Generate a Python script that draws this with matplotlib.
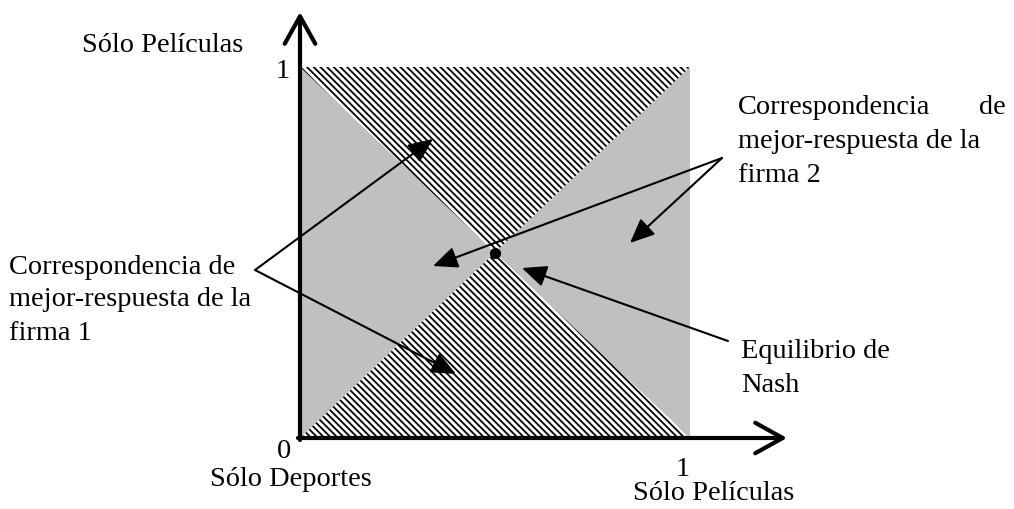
"""Best-response correspondences and Nash equilibrium (sports vs. movies)."""
import matplotlib
matplotlib.use("Agg")
import matplotlib.pyplot as plt
from matplotlib.patches import Polygon

# strategy square (probability of "Sólo Películas" for each firm)
square = [(0, 0), (1, 0), (1, 1), (0, 1)]
# hatched regions: best-response correspondence of firm 1
top_triangle = [(0, 1), (1, 1), (0.5, 0.5)]
bottom_triangle = [(0, 0), (1, 0), (0.5, 0.5)]
nash = (0.5, 0.5)

tick_labels = {"x0": "0", "x1": "1", "y1": "1"}
axis_labels = {"x_lo": "Sólo Deportes", "x_hi": "Sólo Películas", "y_hi": "Sólo Películas"}

firm1_lines = ["Correspondencia de", "mejor-respuesta de la", "firma 1"]
firm2_lines = ["Correspondencia", "de", "mejor-respuesta de la", "firma 2"]
nash_lines = ["Equilibrio de", "Nash"]

W, H = 1014, 509
X0, Y0, SIDE_X, SIDE_Y = 300, 438, 390, 371  # pixel position of the unit square


def pix(px, py):
    """Pixel position in the picture -> data coordinates."""
    return ((px - X0) / SIDE_X, (Y0 - py) / SIDE_Y)


plt.rcParams["font.family"] = ["Liberation Serif", "DejaVu Serif"]
plt.rcParams["hatch.linewidth"] = 1.3

fig = plt.figure(figsize=(W / 100, H / 100), dpi=100)
ax = fig.add_axes([0, 0, 1, 1])
ax.set_xlim(pix(0, 0)[0], pix(W, 0)[0])
ax.set_ylim(pix(0, H)[1], pix(0, 0)[1])
ax.axis("off")

ax.add_patch(Polygon(square, closed=True, facecolor="#c0c0c0", edgecolor="none", zorder=1))
for tri in (top_triangle, bottom_triangle):
    ax.add_patch(Polygon(tri, closed=True, facecolor="white", edgecolor="black",
                         hatch="\\" * 5, linewidth=0, zorder=2))

# axes with open arrow heads
axis_style = dict(arrowstyle="->,head_length=0.9,head_width=0.5", lw=3.0, color="black",
                  shrinkA=0, shrinkB=0, mutation_scale=22)
ax.annotate("", xy=pix(787, Y0), xytext=pix(X0 - 2, Y0), arrowprops=axis_style, zorder=5)
ax.annotate("", xy=pix(X0, 12), xytext=pix(X0, Y0 + 2), arrowprops=axis_style, zorder=5)

ax.plot(*nash, "o", color="black", markersize=7, zorder=6)

fs = 20.4
ax.text(*pix(82, 45), axis_labels["y_hi"], fontsize=fs, va="center", ha="left")
ax.text(*pix(283, 72), tick_labels["y1"], fontsize=fs, va="center", ha="center")
ax.text(*pix(284, 452), tick_labels["x0"], fontsize=fs, va="center", ha="center")
ax.text(*pix(210, 479), axis_labels["x_lo"], fontsize=fs, va="center", ha="left")
ax.text(*pix(683, 469), tick_labels["x1"], fontsize=fs, va="center", ha="center")
ax.text(*pix(633, 494), axis_labels["x_hi"], fontsize=fs, va="center", ha="left")

for i, line in enumerate(firm1_lines):
    ax.text(*pix(9, 267 + 33 * i), line, fontsize=fs, va="center", ha="left")

ax.text(*pix(738, 108), firm2_lines[0], fontsize=fs, va="center", ha="left")
ax.text(*pix(1006, 108), firm2_lines[1], fontsize=fs, va="center", ha="right")
ax.text(*pix(738, 142), firm2_lines[2], fontsize=fs, va="center", ha="left")
ax.text(*pix(738, 176), firm2_lines[3], fontsize=fs, va="center", ha="left")

for i, line in enumerate(nash_lines):
    ax.text(*pix(741, 352 + 33 * i), line, fontsize=fs, va="center", ha="left")

# pointer arrows (tail pixel, head pixel)
pointer = dict(arrowstyle="-|>,head_length=0.75,head_width=0.33", lw=1.5, color="black",
               shrinkA=0, shrinkB=0, mutation_scale=20)
arrows = [
    ((255, 270), (433, 139)),
    ((255, 270), (456, 374)),
    ((722, 158), (433, 266)),
    ((722, 158), (630, 243)),
    ((728, 341), (522, 268)),
]
for tail, head in arrows:
    ax.annotate("", xy=pix(*head), xytext=pix(*tail), arrowprops=pointer, zorder=7)

fig.savefig("out.png", dpi=100)
